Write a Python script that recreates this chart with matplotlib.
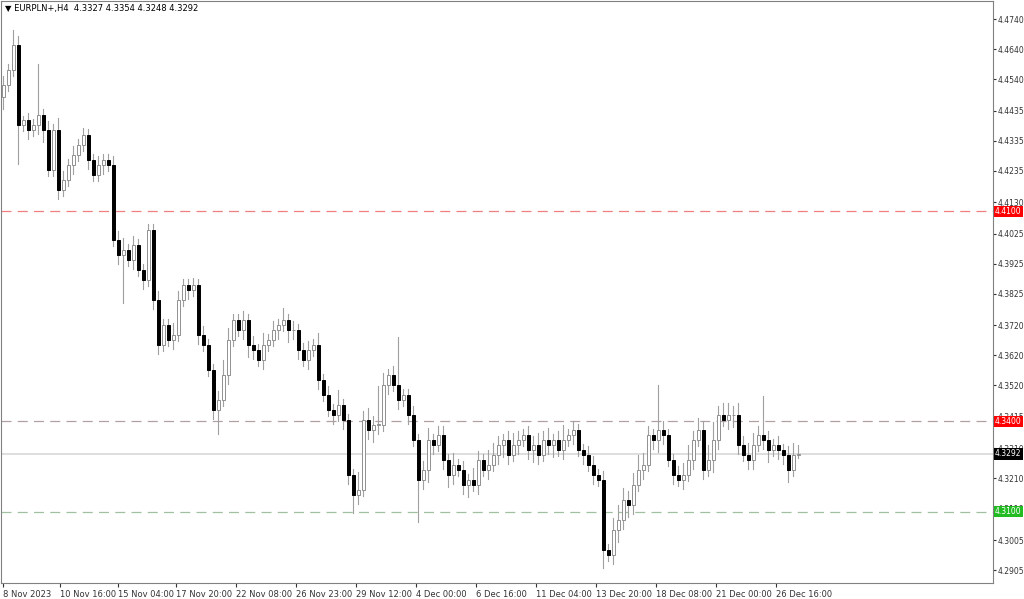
import matplotlib
matplotlib.use("Agg")
import matplotlib.pyplot as plt
from matplotlib.patches import Rectangle

# ==========================================================
# Data (EURPLN+, H4)
# ==========================================================

first_open = 4.4480
closes = [
    4.4520, 4.4570, 4.4653, 4.4387, 4.4403, 4.4370, 4.4387, 4.4420, 4.4370, 4.4237,
    4.4370, 4.4170, 4.4203, 4.4253, 4.4287, 4.4320, 4.4353, 4.4270, 4.4220, 4.4253,
    4.4270, 4.4253, 4.4004, 4.3954, 4.3970, 4.3937, 4.3987, 4.3904, 4.3870, 4.4037,
    4.3804, 4.3654, 4.3721, 4.3671, 4.3687, 4.3804, 4.3854, 4.3837, 4.3854, 4.3687,
    4.3654, 4.3571, 4.3438, 4.3471, 4.3554, 4.3671, 4.3737, 4.3704, 4.3737, 4.3654,
    4.3637, 4.3604, 4.3654, 4.3671, 4.3704, 4.3721, 4.3737, 4.3704, 4.3704, 4.3637,
    4.3604, 4.3637, 4.3654, 4.3537, 4.3487, 4.3438, 4.3421, 4.3454, 4.3404, 4.3221,
    4.3155, 4.3171, 4.3404, 4.3371, 4.3388, 4.3388, 4.3521, 4.3554, 4.3521, 4.3471,
    4.3487, 4.3421, 4.3338, 4.3205, 4.3238, 4.3338, 4.3321, 4.3354, 4.3271, 4.3221,
    4.3255, 4.3238, 4.3188, 4.3205, 4.3188, 4.3271, 4.3238, 4.3255, 4.3288, 4.3321,
    4.3338, 4.3288, 4.3321, 4.3338, 4.3354, 4.3304, 4.3321, 4.3288, 4.3338, 4.3321,
    4.3338, 4.3304, 4.3338, 4.3354, 4.3371, 4.3304, 4.3288, 4.3255, 4.3221, 4.3205,
    4.2971, 4.2955, 4.3038, 4.3071, 4.3138, 4.3121, 4.3188, 4.3238, 4.3255, 4.3354,
    4.3338, 4.3371, 4.3354, 4.3271, 4.3221, 4.3205, 4.3221, 4.3271, 4.3338, 4.3371,
    4.3238, 4.3271, 4.3338, 4.3421, 4.3404, 4.3421, 4.3421, 4.3321, 4.3288, 4.3271,
    4.3321, 4.3354, 4.3338, 4.3304, 4.3321, 4.3304, 4.3288, 4.3238, 4.3288, 4.3292,
]
upper_wicks = [
    0.0030, 0.0020, 0.0050, 0.0030, 0.0015, 0.0025, 0.0020, 0.0170, 0.0020, 0.0030,
    0.0020, 0.0040, 0.0030, 0.0020, 0.0030, 0.0020, 0.0025, 0.0020, 0.0020, 0.0030,
    0.0020, 0.0020, 0.0030, 0.0030, 0.0040, 0.0020, 0.0030, 0.0020, 0.0020, 0.0020,
    0.0020, 0.0030, 0.0020, 0.0020, 0.0040, 0.0030, 0.0020, 0.0020, 0.0025, 0.0020,
    0.0030, 0.0020, 0.0020, 0.0030, 0.0050, 0.0040, 0.0020, 0.0020, 0.0030, 0.0020,
    0.0030, 0.0020, 0.0040, 0.0020, 0.0030, 0.0020, 0.0040, 0.0020, 0.0030, 0.0020,
    0.0025, 0.0030, 0.0020, 0.0040, 0.0020, 0.0030, 0.0020, 0.0050, 0.0020, 0.0020,
    0.0020, 0.0060, 0.0030, 0.0040, 0.0030, 0.0130, 0.0040, 0.0020, 0.0030, 0.0160,
    0.0020, 0.0020, 0.0030, 0.0020, 0.0030, 0.0040, 0.0020, 0.0030, 0.0030, 0.0020,
    0.0040, 0.0020, 0.0030, 0.0020, 0.0040, 0.0030, 0.0020, 0.0050, 0.0040, 0.0030,
    0.0020, 0.0030, 0.0040, 0.0030, 0.0020, 0.0030, 0.0030, 0.0040, 0.0030, 0.0040,
    0.0020, 0.0030, 0.0050, 0.0020, 0.0030, 0.0020, 0.0020, 0.0030, 0.0030, 0.0020,
    0.0030, 0.0020, 0.0040, 0.0050, 0.0040, 0.0030, 0.0040, 0.0050, 0.0040, 0.0030,
    0.0020, 0.0150, 0.0030, 0.0020, 0.0020, 0.0030, 0.0040, 0.0050, 0.0030, 0.0040,
    0.0030, 0.0050, 0.0060, 0.0030, 0.0040, 0.0040, 0.0030, 0.0040, 0.0030, 0.0040,
    0.0040, 0.0030, 0.0130, 0.0030, 0.0020, 0.0030, 0.0020, 0.0030, 0.0040, 0.0030,
]
lower_wicks = [
    0.0040, 0.0020, 0.0020, 0.0130, 0.0020, 0.0030, 0.0020, 0.0030, 0.0040, 0.0020,
    0.0020, 0.0030, 0.0020, 0.0020, 0.0030, 0.0020, 0.0020, 0.0030, 0.0020, 0.0020,
    0.0030, 0.0020, 0.0020, 0.0030, 0.0160, 0.0020, 0.0030, 0.0020, 0.0030, 0.0020,
    0.0030, 0.0030, 0.0020, 0.0020, 0.0030, 0.0020, 0.0020, 0.0030, 0.0020, 0.0030,
    0.0020, 0.0020, 0.0030, 0.0080, 0.0020, 0.0030, 0.0020, 0.0020, 0.0030, 0.0040,
    0.0030, 0.0020, 0.0030, 0.0020, 0.0020, 0.0030, 0.0020, 0.0040, 0.0030, 0.0030,
    0.0020, 0.0030, 0.0020, 0.0030, 0.0020, 0.0020, 0.0030, 0.0020, 0.0030, 0.0030,
    0.0060, 0.0030, 0.0020, 0.0030, 0.0040, 0.0030, 0.0020, 0.0030, 0.0020, 0.0030,
    0.0020, 0.0030, 0.0020, 0.0140, 0.0030, 0.0040, 0.0030, 0.0020, 0.0030, 0.0040,
    0.0030, 0.0020, 0.0030, 0.0040, 0.0020, 0.0030, 0.0020, 0.0030, 0.0020, 0.0030,
    0.0040, 0.0030, 0.0020, 0.0030, 0.0020, 0.0030, 0.0040, 0.0030, 0.0020, 0.0030,
    0.0040, 0.0020, 0.0030, 0.0020, 0.0030, 0.0020, 0.0030, 0.0020, 0.0030, 0.0020,
    0.0060, 0.0020, 0.0030, 0.0040, 0.0030, 0.0040, 0.0030, 0.0020, 0.0030, 0.0020,
    0.0030, 0.0040, 0.0030, 0.0020, 0.0030, 0.0020, 0.0030, 0.0020, 0.0030, 0.0020,
    0.0030, 0.0020, 0.0040, 0.0030, 0.0020, 0.0030, 0.0040, 0.0030, 0.0020, 0.0030,
    0.0030, 0.0020, 0.0030, 0.0040, 0.0020, 0.0030, 0.0030, 0.0040, 0.0020, 0.0010,
]
opens = [first_open] + closes[:-1]

price_ticks = [4.4740, 4.4640, 4.4540, 4.4435, 4.4335, 4.4235, 4.4130, 4.4025,
               4.3925, 4.3825, 4.3720, 4.3620, 4.3520, 4.3415, 4.3310, 4.3210,
               4.3110, 4.3005, 4.2905]
date_labels = ["8 Nov 2023", "10 Nov 16:00", "15 Nov 04:00", "17 Nov 20:00",
               "22 Nov 08:00", "26 Nov 23:00", "29 Nov 12:00", "4 Dec 00:00",
               "6 Dec 16:00", "11 Dec 04:00", "13 Dec 20:00", "18 Dec 08:00",
               "21 Dec 00:00", "26 Dec 16:00"]
date_positions = [0, 11.4, 23, 34.6, 46.6, 58.6, 70.6, 82.6, 94.6, 106.6,
                  118.6, 130.6, 142.6, 154.6]

levels = [(4.4100, "#f08080", "#ff0000", "4.4100"),
          (4.3400, "#b0a0a0", "#ff0000", "4.3400"),
          (4.3100, "#a0c0a0", "#22bb22", "4.3100")]
last_price = 4.3292

# ==========================================================
# Figure
# ==========================================================

fig = plt.figure(figsize=(10.24, 5.99), dpi=100)
ax = fig.add_axes([1 / 1024, 1 - 583 / 599, 992 / 1024, 582 / 599])
ax.set_xlim(-0.4, 198)
ax.set_ylim(4.2862, 4.4800)

for i, (o, c, uw, lw) in enumerate(zip(opens, closes, upper_wicks, lower_wicks)):
    top, bot = max(o, c), min(o, c)
    ax.plot([i, i], [bot - lw, top + uw], color="#a0a0a0", lw=0.8, zorder=2)
    if c >= o:
        face, edge = "white", "#909090"
    else:
        face, edge = "black", "black"
    ax.add_patch(Rectangle((i - 0.3, bot), 0.6, max(top - bot, 0.0002),
                           facecolor=face, edgecolor=edge, lw=0.7, zorder=3))

for y, line_color, box_color, txt in levels:
    ax.axhline(y, color=line_color, lw=0.9, ls=(0, (8, 5)), zorder=1)
    ax.text(1.002, y, txt, transform=ax.get_yaxis_transform(), fontsize=5.5,
            color="white", va="center", ha="left",
            bbox=dict(boxstyle="square,pad=0.15", fc=box_color, ec="none"))

ax.axhline(last_price, color="#d8d8d8", lw=1.2, zorder=1)
ax.text(1.002, last_price, "4.3292", transform=ax.get_yaxis_transform(),
        fontsize=5.5, color="white", va="center", ha="left",
        bbox=dict(boxstyle="square,pad=0.15", fc="black", ec="none"))

ax.yaxis.tick_right()
ax.set_yticks(price_ticks)
ax.set_yticklabels([f"{p:.4f}" for p in price_ticks])
ax.tick_params(axis="y", labelsize=5.5, length=2, colors="#333333", pad=1)
ax.set_xticks(date_positions)
ax.set_xticklabels(date_labels, ha="left")
ax.tick_params(axis="x", labelsize=6, length=3, colors="#333333", pad=2)

for s in ax.spines.values():
    s.set_color("#808080")
    s.set_linewidth(0.8)

ax.text(0.004, 0.995, "▼ EURPLN+,H4  4.3327 4.3354 4.3248 4.3292",
        transform=ax.transAxes, fontsize=6, va="top", ha="left")

fig.savefig("out.png", dpi=100)
